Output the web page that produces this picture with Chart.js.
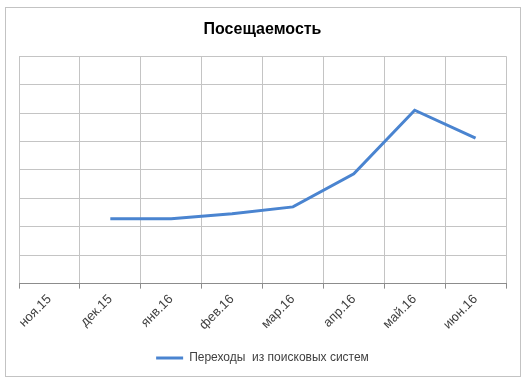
<!DOCTYPE html>
<html lang="ru">
<head>
<meta charset="utf-8">
<title>Посещаемость</title>
<script src="https://cdn.jsdelivr.net/npm/chart.js@4/dist/chart.umd.min.js"></script>
<style>
  html, body { margin: 0; padding: 0; background: #fff; }
  #wrap { width: 527px; height: 384px; position: relative; }
</style>
</head>
<body>
<div id="wrap"><canvas id="visits-chart" width="527" height="384"></canvas></div>
<script>
const months = ['ноя.15', 'дек.15', 'янв.16', 'фев.16', 'мар.16', 'апр.16', 'май.16', 'июн.16'];
const searchVisits = [null, 2.28, 2.28, 2.46, 2.70, 3.86, 6.10, 5.12];
const seriesName = 'Переходы  из поисковых систем';
const chartTitle = 'Посещаемость';

const lineColor = '#4a84d0';
const gridColor = '#c4c4c4';
const axisColor = '#8c8c8c';
const textColor = '#404040';

// white background + thin outer frame like the spreadsheet chart area
const framePlugin = {
  id: 'frame',
  beforeDraw(chart) {
    const ctx = chart.ctx;
    ctx.save();
    ctx.fillStyle = '#fff';
    ctx.fillRect(0, 0, chart.width, chart.height);
    ctx.strokeStyle = '#c3c3c3';
    ctx.lineWidth = 1;
    ctx.strokeRect(5.5, 7.5, 515, 369);
    ctx.restore();
  },
};

const ctx = document.getElementById('visits-chart');

new Chart(ctx, {
  type: 'line',
  data: {
    labels: months,
    datasets: [
      {
        label: seriesName,
        data: searchVisits,
        borderColor: lineColor,
        backgroundColor: lineColor,
        borderWidth: 3,
        pointRadius: 0,
        tension: 0,
        spanGaps: false,
      },
    ],
  },
  options: {
    responsive: false,
    animation: false,
    layout: { padding: { left: 19, right: 21, top: 14, bottom: 10 } },
    plugins: {
      title: {
        display: true,
        text: chartTitle,
        color: '#000',
        font: { family: 'Liberation Sans', size: 16, weight: 'bold' },
        padding: { top: 6, bottom: 17 },
      },
      legend: {
        position: 'bottom',
        labels: {
          color: textColor,
          font: { family: 'Liberation Sans', size: 12 },
          boxWidth: 27,
          boxHeight: 3,
          padding: 10,
          generateLabels(chart) {
            return chart.data.datasets.map((ds, i) => ({
              text: ds.label,
              fillStyle: ds.borderColor,
              strokeStyle: ds.borderColor,
              lineWidth: 0,
              fontColor: textColor,
              datasetIndex: i,
            }));
          },
        },
      },
      tooltip: { enabled: false },
    },
    scales: {
      x: {
        offset: true,
        grid: {
          offset: true,
          color: gridColor,
          tickColor: axisColor,
          tickLength: 5,
        },
        border: { color: axisColor },
        ticks: {
          color: textColor,
          font: { family: 'Liberation Sans', size: 13 },
          maxRotation: 45,
          minRotation: 45,
          padding: 3,
        },
        afterFit(scale) {
          scale.height += 6;
        },
      },
      y: {
        min: 0,
        max: 8,
        ticks: { display: false, stepSize: 1 },
        grid: { color: gridColor, drawTicks: false },
        border: { display: false },
      },
    },
  },
  plugins: [framePlugin],
});
</script>
</body>
</html>
